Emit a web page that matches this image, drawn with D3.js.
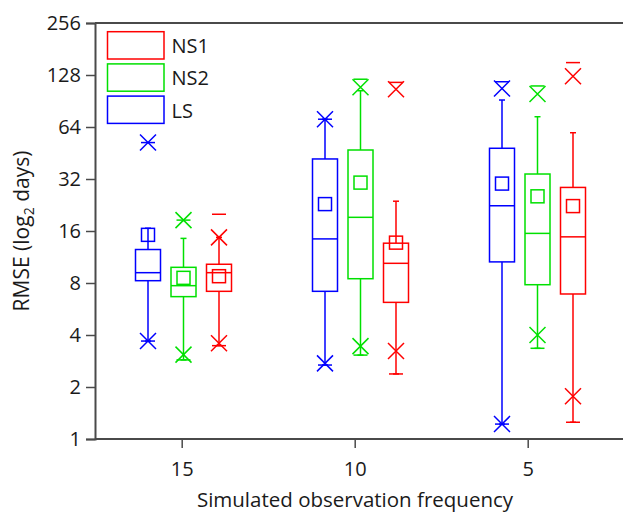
<!DOCTYPE html>
<html>
<head>
<meta charset="utf-8">
<script src="https://cdn.jsdelivr.net/npm/d3@7"></script>
<style>
  html, body { margin: 0; padding: 0; background: #fff; }
  svg { display: block; font-family: "Open Sans", "Noto Sans", sans-serif; }
</style>
</head>
<body>
<svg id="chart" width="623" height="513"></svg>
<script>
// Simulated observation frequencies (x categories)
const frequencies = ["15", "10", "5"];
// Series, drawn left to right inside each group
const seriesNames = ["LS", "NS2", "NS1"];
const seriesColors = ["#0000ff", "#00e000", "#ff0000"];
// Legend order
const legendOrder = ["NS1", "NS2", "LS"];
// y ticks (log2 days)
const yTicks = [1, 2, 4, 8, 16, 32, 64, 128, 256];

// Box statistics, one entry per frequency, in seriesNames order
const q1Values     = { LS: [8.25, 7.16, 10.6], NS2: [6.67, 8.47, 7.82], NS1: [7.16, 6.18, 6.91] };
const medianValues = { LS: [9.18, 14.4, 22.4], NS2: [7.72, 19.2, 15.5], NS1: [9.18, 10.4, 14.8] };
const q3Values     = { LS: [12.5, 41.8, 48.2], NS2: [9.86, 47.1, 34.2], NS1: [10.27, 13.6, 28.6] };
const meanValues   = { LS: [15.2, 22.9, 30.1], NS2: [8.57, 30.5, 25.4], NS1: [8.76, 13.7, 22.3] };
const whiskerLow   = { LS: [3.69, 2.68, 1.22], NS2: [2.87, 3.06, 3.35], NS1: [3.47, 2.38, 1.25] };
const whiskerHigh  = { LS: [16.6, 71, 91.7],   NS2: [14.5, 103.8, 73.4], NS1: [14.7, 23.8, 59.3] };
const p1Values     = { LS: [3.69, 2.74, 1.22], NS2: [3.08, 3.45, 4.0],  NS1: [3.58, 3.23, 1.77] };
const p99Values    = { LS: [52, 71, 107],      NS2: [18.5, 108.6, 99.4], NS1: [14.7, 105.8, 126] };
const minValues    = { LS: [3.69, 2.68, 1.22], NS2: [2.87, 3.06, 3.35], NS1: [3.47, 2.38, 1.25] };
const maxValues    = { LS: [52, 71, 117],      NS2: [18.5, 121, 110.6], NS1: [20.0, 116, 151] };

const svg = d3.select("#chart");
const axisColor = "#4a4a4a";
const textColor = "#1a1a1a";
const plot = { left: 95, top: 23, right: 623, bottom: 439 };

const y = d3.scaleLog().base(2).domain([1, 256]).range([plot.bottom, plot.top]);
const xTick = d3.scalePoint().domain(frequencies).range([181.7, 527.7]);
const xGroup = d3.scalePoint().domain(frequencies).range([183.5, 537.5]);
const xSeries = d3.scalePoint().domain(seriesNames).range([-35.5, 35.5]);
const color = d3.scaleOrdinal().domain(seriesNames).range(seriesColors);

const boxW = 25, meanSize = 13, xSize = 8, dashW = 14, capW = 6;

// frame: top border line
svg.append("line")
  .attr("x1", plot.left).attr("x2", plot.right)
  .attr("y1", plot.top).attr("y2", plot.top)
  .attr("stroke", axisColor).attr("stroke-width", 2);

// y axis
const yAxis = svg.append("g")
  .attr("transform", `translate(${plot.left},0)`)
  .call(d3.axisLeft(y).tickValues(yTicks).tickFormat(d3.format("d")).tickSize(9).tickPadding(5));
yAxis.select(".domain").attr("stroke", axisColor).attr("stroke-width", 2);
yAxis.selectAll(".tick line").attr("stroke", axisColor).attr("stroke-width", 1.5);
yAxis.selectAll("text").attr("fill", textColor).style("font-size", "20px")
  .style("font-family", "'Open Sans', sans-serif");

// x axis
const xAxis = svg.append("g")
  .attr("transform", `translate(0,${plot.bottom})`)
  .call(d3.axisBottom(xTick).tickSize(9).tickPadding(14).tickSizeOuter(0));
xAxis.select(".domain").attr("d", `M${plot.left},0H${plot.right}`)
  .attr("stroke", axisColor).attr("stroke-width", 2);
xAxis.selectAll(".tick line").attr("stroke", axisColor).attr("stroke-width", 1.5);
xAxis.selectAll("text").attr("fill", textColor).style("font-size", "20px")
  .style("font-family", "'Open Sans', sans-serif");

// axis titles
svg.append("text")
  .attr("x", 355).attr("y", 507)
  .attr("text-anchor", "middle").attr("fill", textColor)
  .style("font-size", "20.5px")
  .text("Simulated observation frequency");

const yTitle = svg.append("text")
  .attr("transform", `translate(29,${(plot.top + plot.bottom) / 2}) rotate(-90)`)
  .attr("text-anchor", "middle").attr("fill", textColor)
  .style("font-size", "21px");
yTitle.append("tspan").text("RMSE (log");
yTitle.append("tspan").attr("dy", 5).style("font-size", "14px").text("2");
yTitle.append("tspan").attr("dy", -5).text(" days)");

// boxes
const items = [];
frequencies.forEach((f, i) => {
  seriesNames.forEach(s => {
    items.push({
      freq: f, series: s,
      q1: q1Values[s][i], med: medianValues[s][i], q3: q3Values[s][i],
      mean: meanValues[s][i], wlo: whiskerLow[s][i], whi: whiskerHigh[s][i],
      p1: p1Values[s][i], p99: p99Values[s][i],
      min: minValues[s][i], max: maxValues[s][i]
    });
  });
});

const boxes = svg.append("g").selectAll("g").data(items).join("g")
  .attr("transform", d => `translate(${xGroup(d.freq) + xSeries(d.series)},0)`)
  .attr("stroke", d => color(d.series))
  .attr("stroke-width", 1.5)
  .attr("fill", "none");

// whiskers
boxes.append("line").attr("x1", 0).attr("x2", 0)
  .attr("y1", d => y(d.q3)).attr("y2", d => y(d.whi));
boxes.append("line").attr("x1", 0).attr("x2", 0)
  .attr("y1", d => y(d.q1)).attr("y2", d => y(d.wlo));
// whisker caps
boxes.append("line").attr("x1", -capW / 2).attr("x2", capW / 2)
  .attr("y1", d => y(d.whi)).attr("y2", d => y(d.whi));
boxes.append("line").attr("x1", -capW / 2).attr("x2", capW / 2)
  .attr("y1", d => y(d.wlo)).attr("y2", d => y(d.wlo));

// box
boxes.append("rect")
  .attr("x", -boxW / 2).attr("width", boxW)
  .attr("y", d => y(d.q3)).attr("height", d => y(d.q1) - y(d.q3));
// median
boxes.append("line").attr("x1", -boxW / 2).attr("x2", boxW / 2)
  .attr("y1", d => y(d.med)).attr("y2", d => y(d.med));
// mean square
boxes.append("rect")
  .attr("x", -meanSize / 2).attr("width", meanSize)
  .attr("y", d => y(d.mean) - meanSize / 2).attr("height", meanSize);

// 1% / 99% crosses
function cross(sel, key) {
  sel.append("path").attr("d", d => {
    const cy = y(d[key]);
    return `M${-xSize},${cy - xSize}L${xSize},${cy + xSize}M${-xSize},${cy + xSize}L${xSize},${cy - xSize}`;
  });
}
cross(boxes, "p1");
cross(boxes, "p99");

// min / max dashes
boxes.append("line").attr("x1", -dashW / 2).attr("x2", dashW / 2)
  .attr("y1", d => y(d.min)).attr("y2", d => y(d.min));
boxes.append("line").attr("x1", -dashW / 2).attr("x2", dashW / 2)
  .attr("y1", d => y(d.max)).attr("y2", d => y(d.max));

// legend
const legend = svg.append("g").selectAll("g").data(legendOrder).join("g")
  .attr("transform", (d, i) => `translate(107.5,${31.7 + i * 32.2})`);
legend.append("rect")
  .attr("width", 56.5).attr("height", 27.3)
  .attr("fill", "none").attr("stroke", d => color(d)).attr("stroke-width", 1.5);
legend.append("text")
  .attr("x", 64).attr("y", 14.5).attr("dy", "0.35em")
  .attr("fill", textColor).style("font-size", "20px")
  .text(d => d);
</script>
</body>
</html>
